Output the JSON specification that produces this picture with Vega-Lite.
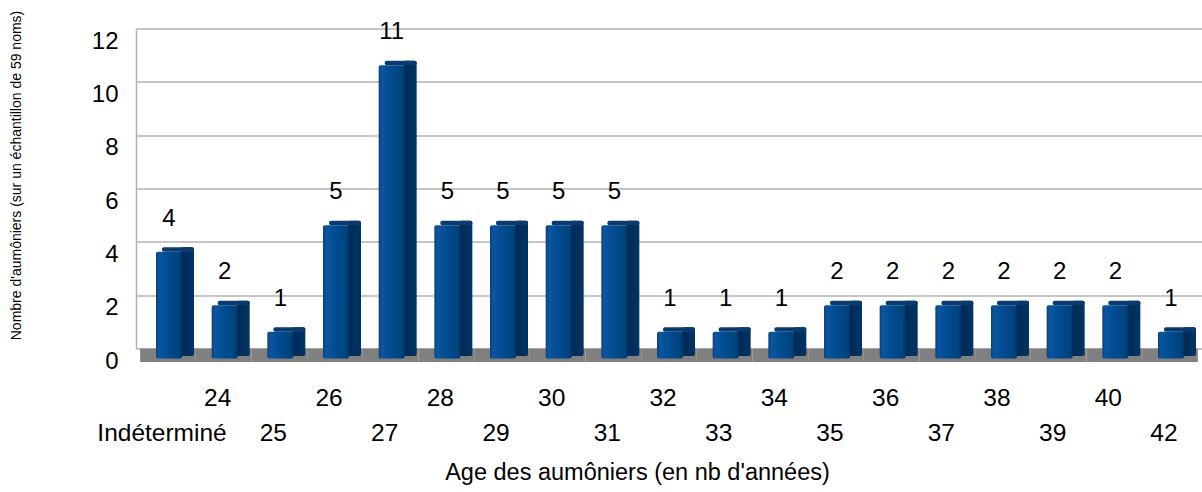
{
  "$schema": "https://vega.github.io/schema/vega-lite/v6.json",
  "width": 1066,
  "height": 320,
  "autosize": {"type": "none"},
  "padding": {"left": 136, "top": 28.5, "right": 0, "bottom": 143.5},
  "background": "white",
  "config": {"font": "Liberation Sans", "view": {"stroke": null}},
  "data": {
    "values": [
      {"age": "Indéterminé", "n": 4},
      {"age": "24", "n": 2},
      {"age": "25", "n": 1},
      {"age": "26", "n": 5},
      {"age": "27", "n": 11},
      {"age": "28", "n": 5},
      {"age": "29", "n": 5},
      {"age": "30", "n": 5},
      {"age": "31", "n": 5},
      {"age": "32", "n": 1},
      {"age": "33", "n": 1},
      {"age": "34", "n": 1},
      {"age": "35", "n": 2},
      {"age": "36", "n": 2},
      {"age": "37", "n": 2},
      {"age": "38", "n": 2},
      {"age": "39", "n": 2},
      {"age": "40", "n": 2},
      {"age": "42", "n": 1}
    ]
  },
  "encoding": {
    "x": {
      "field": "age",
      "type": "nominal",
      "sort": null,
      "scale": {"paddingInner": 0, "paddingOuter": 0.075},
      "axis": {
        "title": "Age des aumôniers (en nb d'années)",
        "labelAngle": 0,
        "labelFontSize": 24.5,
        "labelColor": "#000000",
        "labelOffset": -6,
        "labelPadding": 38,
        "labelBaseline": "top",
        "labelLineHeight": 35,
        "labelOverlap": false,
        "labelBound": false,
        "labelFlush": false,
        "labelLimit": 300,
        "ticks": false,
        "tickSize": 0,
        "domain": false,
        "grid": false,
        "labelExpr": "indexof(['Indéterminé','25','27','29','31','33','35','37','39','42'], datum.label) >= 0 ? ['', datum.label] : datum.label",
        "titleFontSize": 23.5,
        "titleFontWeight": "normal",
        "titleColor": "#000000",
        "titleX": 501,
        "titleY": 130.5,
        "titleAlign": "center",
        "titleBaseline": "alphabetic"
      }
    },
    "y": {
      "field": "n",
      "type": "quantitative",
      "scale": {"domain": [0, 12], "nice": false, "zero": true},
      "axis": {
        "title": "Nombre d'aumôniers (sur un échantillon de 59 noms)",
        "values": [0, 2, 4, 6, 8, 10, 12],
        "labelFontSize": 24,
        "labelColor": "#000000",
        "labelPadding": 18,
        "labelOffset": 12.5,
        "ticks": false,
        "tickSize": 0,
        "domain": true,
        "domainColor": "#b3b3b3",
        "domainWidth": 1.5,
        "grid": true,
        "gridColor": "#b3b3b3",
        "gridWidth": 1.5,
        "titleFontSize": 14,
        "titleFontWeight": "normal",
        "titleColor": "#000000",
        "titleX": -120,
        "titleY": 146.5,
        "titleAngle": -90,
        "titleAlign": "center",
        "titleBaseline": "middle"
      }
    }
  },
  "layer": [
    {
      "mark": {"type": "bar", "color": "#808080", "y2Offset": 13.5},
      "encoding": {
        "y": {"datum": 0, "type": "quantitative"},
        "y2": {"datum": 0}
      }
    },
    {
      "mark": {
        "type": "bar",
        "width": 13,
        "xOffset": 19.5,
        "yOffset": 5.5,
        "y2Offset": 7.5,
        "cornerRadius": 2,
        "color": {
          "gradient": "linear", "x1": 0, "x2": 1, "y1": 0, "y2": 0,
          "stops": [
            {"offset": 0, "color": "#002a55"},
            {"offset": 1, "color": "#003465"}
          ]
        }
      },
      "encoding": {"y2": {"datum": 0}}
    },
    {
      "mark": {
        "type": "bar",
        "width": 32,
        "xOffset": 10,
        "yOffset": 5.5,
        "y2Offset": 10,
        "cornerRadius": 2,
        "color": "#0a3a6f"
      },
      "encoding": {"y2": {"field": "n"}}
    },
    {
      "mark": {
        "type": "bar",
        "width": 26,
        "xOffset": 1,
        "yOffset": 10,
        "y2Offset": 10,
        "cornerRadius": 2,
        "color": {
          "gradient": "linear", "x1": 0, "x2": 1, "y1": 0, "y2": 0,
          "stops": [
            {"offset": 0, "color": "#0e3f78"},
            {"offset": 0.12, "color": "#0b56a0"},
            {"offset": 0.5, "color": "#004a8f"},
            {"offset": 0.88, "color": "#00447f"},
            {"offset": 1, "color": "#003566"}
          ]
        }
      },
      "encoding": {"y2": {"datum": 0}}
    },
    {
      "mark": {
        "type": "text",
        "xOffset": 1,
        "yOffset": -16,
        "baseline": "alphabetic",
        "fontSize": 24,
        "color": "#000000"
      },
      "encoding": {"text": {"field": "n", "type": "quantitative"}}
    }
  ]
}
